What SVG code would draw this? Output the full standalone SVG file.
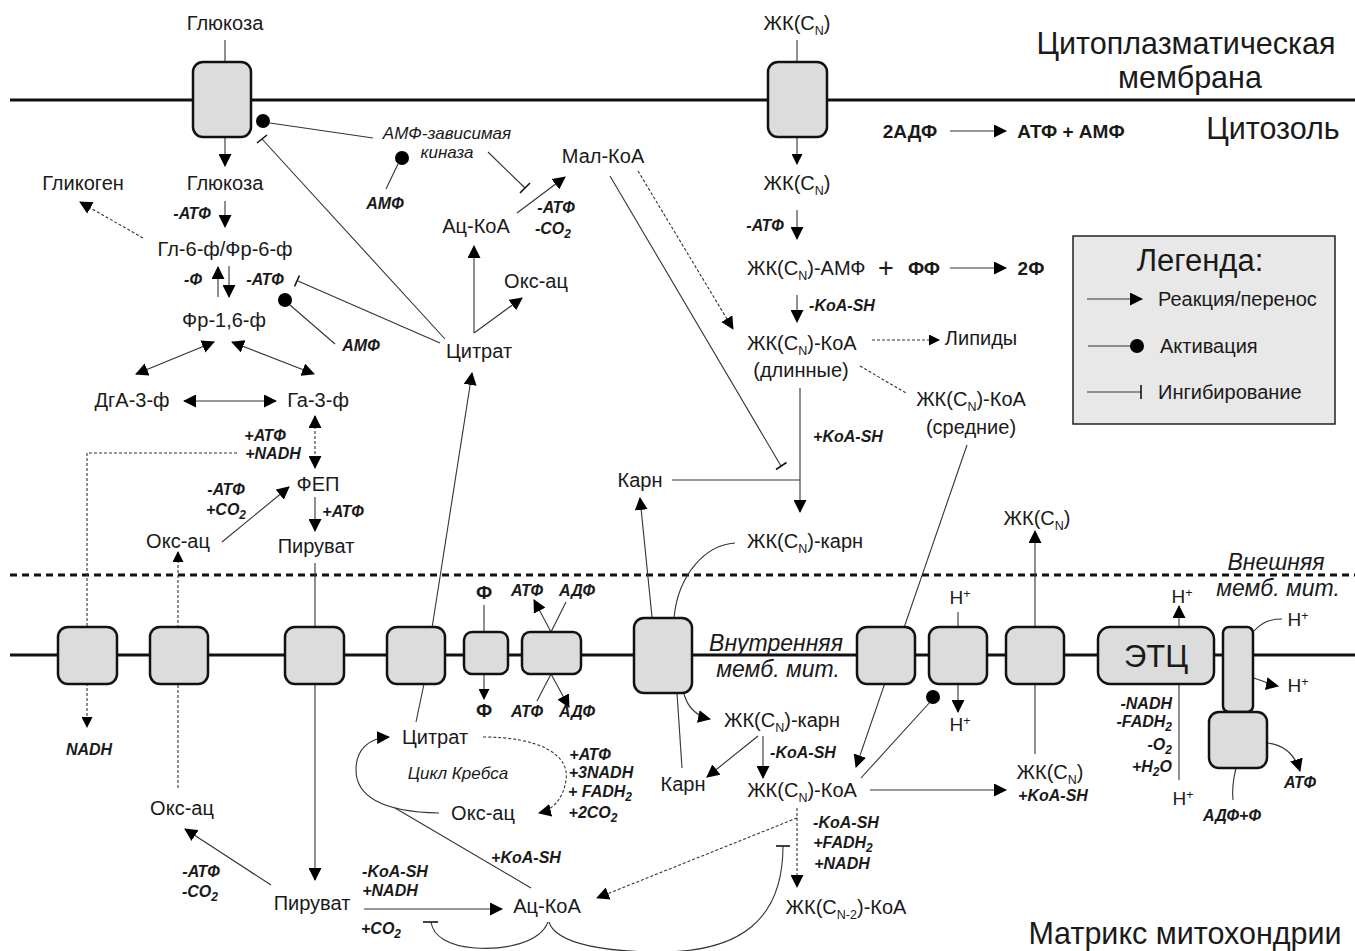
<svg xmlns="http://www.w3.org/2000/svg" width="1355" height="951" viewBox="0 0 1355 951">
<defs>
<marker id="a" viewBox="0 0 13 13" refX="12" refY="6.5" markerWidth="13" markerHeight="13" markerUnits="userSpaceOnUse" orient="auto-start-reverse"><path d="M0,0 L13,6.5 L0,13z" fill="#000"/></marker>
<marker id="s" viewBox="0 0 11 11" refX="10" refY="5.5" markerWidth="11" markerHeight="11" markerUnits="userSpaceOnUse" orient="auto-start-reverse"><path d="M0,0 L11,5.5 L0,11z" fill="#000"/></marker>
<style>
text{font-family:"Liberation Sans",Arial,sans-serif;fill:#1a1a1a}
.n{font-size:20px;text-anchor:middle}
.ns{font-size:20px}
.sub{font-size:12.5px}
.b{font-size:16px;font-weight:bold;font-style:italic;text-anchor:middle}
.bn{font-size:19px;font-weight:bold;text-anchor:middle}
.i{font-size:17px;font-style:italic;text-anchor:middle}
.ii{font-size:23px;font-style:italic;text-anchor:middle}
.t{font-size:30.5px;text-anchor:middle}
.h{font-size:19px;text-anchor:middle}
.lg{font-size:20px}
.c{stroke:#333;stroke-width:1.1;fill:none}
.k{stroke:#111;stroke-width:1.6;fill:none}
.d{stroke:#333;stroke-width:1.1;fill:none;stroke-dasharray:3,2}
.m{stroke:#111;stroke-width:3;fill:none}
.box{fill:#dcdcdc;stroke:#111;stroke-width:2.5}
.dot{fill:#000}
.e{font-size:12px;font-weight:bold;font-style:italic}
</style>
</defs>

<g id="membranes">
<line class="m" x1="10" y1="100" x2="1355" y2="100"/>
<line class="m" x1="10" y1="575" x2="1355" y2="575" stroke-dasharray="7,5"/>
<line class="m" x1="10" y1="655" x2="1355" y2="655"/>
</g>

<g id="connectors">
<line class="c" x1="225" y1="40" x2="225" y2="62"/>
<line class="c" x1="225" y1="137" x2="225" y2="166" marker-end="url(#a)"/>
<line class="d" x1="143" y1="238" x2="80" y2="202" marker-end="url(#a)"/>
<line class="c" x1="225" y1="201" x2="225" y2="227" marker-end="url(#a)"/>
<line class="c" x1="218" y1="297" x2="218" y2="267" marker-end="url(#a)"/>
<line class="c" x1="229" y1="266" x2="229" y2="297" marker-end="url(#a)"/>
<line class="c" x1="440" y1="343" x2="298" y2="281"/>
<line class="k" x1="294.6" y1="286.5" x2="299.4" y2="275.5"/>
<line class="c" x1="290" y1="305" x2="335" y2="344"/>
<line class="c" x1="214" y1="342" x2="136" y2="374" marker-start="url(#a)" marker-end="url(#a)"/>
<line class="c" x1="232" y1="342" x2="314" y2="374" marker-start="url(#a)" marker-end="url(#a)"/>
<line class="c" x1="184" y1="401" x2="276" y2="401" marker-start="url(#a)" marker-end="url(#a)"/>
<line class="d" x1="315" y1="416" x2="315" y2="468" marker-start="url(#a)" marker-end="url(#a)"/>
<polyline class="d" points="237,453 87,453 87,727" marker-end="url(#s)"/>
<line class="c" x1="222" y1="542" x2="289" y2="487" marker-end="url(#a)"/>
<line class="c" x1="315" y1="497" x2="315" y2="531" marker-end="url(#a)"/>
<line class="d" x1="178" y1="788" x2="178" y2="552" marker-end="url(#s)"/>
<line class="c" x1="315" y1="563" x2="315" y2="880" marker-end="url(#a)"/>
<line class="c" x1="270" y1="123" x2="373" y2="138"/>
<line class="c" x1="398" y1="164" x2="386" y2="189"/>
<line class="c" x1="488" y1="152" x2="525" y2="188"/>
<line class="k" x1="520" y1="193" x2="530" y2="183"/>
<line class="c" x1="445" y1="339" x2="262" y2="139"/>
<line class="k" x1="257" y1="143" x2="267" y2="135"/>
<line class="c" x1="474" y1="333" x2="474" y2="246" marker-end="url(#a)"/>
<line class="c" x1="474" y1="333" x2="522" y2="298" marker-end="url(#a)"/>
<line class="c" x1="517" y1="213" x2="565" y2="177" marker-end="url(#a)"/>
<line class="c" x1="610" y1="176" x2="781" y2="466"/>
<line class="k" x1="776" y1="469.5" x2="786.5" y2="462.5"/>
<line class="d" x1="638" y1="171" x2="733" y2="329" marker-end="url(#a)"/>
<line class="c" x1="432" y1="628" x2="472" y2="373" marker-end="url(#a)"/>
<line class="c" x1="424" y1="684" x2="416" y2="722"/>
<line class="c" x1="797" y1="40" x2="797" y2="62"/>
<line class="c" x1="797" y1="137" x2="797" y2="164" marker-end="url(#s)"/>
<line class="c" x1="797" y1="210" x2="797" y2="239" marker-end="url(#a)"/>
<line class="c" x1="950" y1="131" x2="1006" y2="131" marker-end="url(#a)"/>
<line class="c" x1="950" y1="268" x2="1006" y2="268" marker-end="url(#a)"/>
<line class="c" x1="797" y1="295" x2="797" y2="322" marker-end="url(#a)"/>
<line class="d" x1="872" y1="340" x2="939" y2="340" marker-end="url(#s)"/>
<line class="d" x1="860" y1="366" x2="906" y2="393"/>
<line class="c" x1="967" y1="445" x2="856" y2="767" marker-end="url(#a)"/>
<line class="c" x1="800" y1="388" x2="800" y2="512" marker-end="url(#a)"/>
<line class="c" x1="672" y1="480" x2="800" y2="480"/>
<line class="c" x1="652" y1="617" x2="640" y2="498" marker-end="url(#a)"/>
<path class="c" d="M735,543 C705,545 678,575 674,618"/>
<path class="c" d="M684,694 C688,708 696,716 710,719" marker-end="url(#a)"/>
<line class="c" x1="677" y1="693" x2="682" y2="768"/>
<line class="c" x1="758" y1="736" x2="707" y2="777" marker-end="url(#a)"/>
<line class="c" x1="763" y1="736" x2="763" y2="778" marker-end="url(#a)"/>
<line class="c" x1="870" y1="790" x2="1006" y2="790" marker-end="url(#a)"/>
<line class="c" x1="861" y1="778" x2="931" y2="701"/>
<line class="d" x1="797" y1="808" x2="797" y2="887" marker-end="url(#a)"/>
<line class="d" x1="797" y1="818" x2="597" y2="898" marker-end="url(#a)"/>
<path class="c" d="M549,922 C556,945 610,952 660,952 C740,952 783,920 783,846"/>
<line class="k" x1="776" y1="846" x2="790" y2="846"/>
<path class="c" d="M548,922 C540,943 505,950 475,948 C448,946 433,936 431,922"/>
<line class="k" x1="423" y1="922" x2="438" y2="922"/>
<path class="c" d="M439,813 C380,812 356,795 356,770 C356,750 368,738 389,737" marker-end="url(#a)"/>
<path class="d" d="M483,737 C540,737 570,755 566,780 C563,800 552,810 539,813" marker-end="url(#a)"/>
<line class="c" x1="531" y1="888" x2="395" y2="808"/>
<line class="c" x1="271" y1="885" x2="185" y2="829" marker-end="url(#a)"/>
<line class="c" x1="364" y1="909" x2="502" y2="909" marker-end="url(#a)"/>
<line class="c" x1="484" y1="605" x2="484" y2="632"/>
<line class="c" x1="484" y1="674" x2="484" y2="699" marker-end="url(#s)"/>
<line class="c" x1="551" y1="632" x2="534" y2="600" marker-end="url(#a)"/>
<line class="c" x1="551" y1="632" x2="566" y2="602"/>
<line class="c" x1="551" y1="674" x2="537" y2="701"/>
<line class="c" x1="551" y1="674" x2="569" y2="707" marker-end="url(#a)"/>
<line class="c" x1="958" y1="612" x2="958" y2="627"/>
<line class="c" x1="958" y1="684" x2="958" y2="712" marker-end="url(#a)"/>
<line class="c" x1="1035" y1="754" x2="1035" y2="531" marker-end="url(#a)"/>
<line class="c" x1="1179" y1="780" x2="1179" y2="606" marker-end="url(#a)"/>
<path class="c" d="M1253,632 C1262,622 1270,619 1282,619"/>
<path class="c" d="M1253,678 C1262,680 1268,684 1278,686" marker-end="url(#a)"/>
<path class="c" d="M1267,743 C1285,745 1295,755 1300,771" marker-end="url(#a)"/>
<path class="c" d="M1236,768 C1233,780 1232,790 1233,800"/>
</g>

<g id="dots">
<circle class="dot" cx="263" cy="121" r="7"/>
<circle class="dot" cx="402" cy="158" r="7"/>
<circle class="dot" cx="285" cy="300" r="7"/>
<circle class="dot" cx="933" cy="697" r="7"/>
</g>

<g id="transporters">
<rect id="t-glc" class="box" x="193" y="62" width="58" height="75" rx="10"/>
<rect id="t-fa" class="box" x="768" y="62" width="59" height="75" rx="10"/>
<rect id="m1" class="box" x="58" y="627" width="59" height="57" rx="10"/>
<rect id="m2" class="box" x="150" y="627" width="58" height="57" rx="10"/>
<rect id="m3" class="box" x="285" y="627" width="59" height="57" rx="10"/>
<rect id="m4" class="box" x="387" y="627" width="58" height="57" rx="10"/>
<rect id="m5" class="box" x="464" y="632" width="44" height="42" rx="8"/>
<rect id="m6" class="box" x="522" y="632" width="59" height="42" rx="8"/>
<rect id="m7" class="box" x="634" y="618" width="58" height="75" rx="10"/>
<rect id="m8" class="box" x="857" y="627" width="58" height="57" rx="10"/>
<rect id="m9" class="box" x="929" y="627" width="58" height="57" rx="10"/>
<rect id="m10" class="box" x="1006" y="627" width="58" height="57" rx="10"/>
<rect id="etc" class="box" x="1098" y="627" width="116" height="57" rx="12"/>
<rect id="atp-stalk" class="box" x="1223" y="627" width="30" height="85" rx="6"/>
<rect id="atp-head" class="box" x="1209" y="712" width="58" height="56" rx="10"/>
</g>

<g id="legend">
<rect x="1073" y="236" width="262" height="188" fill="#e8e8e8" stroke="#222" stroke-width="1.5"/>
<text x="1200" y="271" style="font-size:31px;text-anchor:middle">Легенда:</text>
<line class="c" x1="1087" y1="299" x2="1142" y2="299" marker-end="url(#a)"/>
<text class="lg" x="1158" y="306">Реакция/перенос</text>
<line class="c" x1="1088" y1="346" x2="1135" y2="346"/>
<circle class="dot" cx="1137" cy="346" r="7"/>
<text class="lg" x="1160" y="353">Активация</text>
<line class="c" x1="1087" y1="392" x2="1141" y2="392"/>
<line class="k" x1="1141" y1="385" x2="1141" y2="399"/>
<text class="lg" x="1158" y="399">Ингибирование</text>
</g>

<g id="regions">
<text class="t" x="1186" y="54">Цитоплазматическая</text>
<text class="t" x="1190" y="88">мембрана</text>
<text class="t" x="1273" y="139">Цитозоль</text>
<text class="t" x="1185" y="944">Матрикс митохондрии</text>
<text class="ii" x="1276" y="570">Внешняя</text>
<text class="ii" x="1278" y="596">мемб. мит.</text>
<text class="ii" x="776" y="651">Внутренняя</text>
<text class="ii" x="778" y="677">мемб. мит.</text>
</g>

<g id="glycolysis">
<text class="n" x="225" y="30">Глюкоза</text>
<text class="n" x="225" y="190">Глюкоза</text>
<text class="n" x="83" y="190">Гликоген</text>
<text class="b" x="192" y="219">-АТФ</text>
<text class="n" x="225" y="256">Гл-6-ф/Фр-6-ф</text>
<text class="b" x="193" y="285">-Ф</text>
<text class="b" x="265" y="285">-АТФ</text>
<text class="n" x="224" y="327">Фр-1,6-ф</text>
<text class="b" x="361" y="351">АМФ</text>
<text class="n" x="132" y="407">ДгА-3-ф</text>
<text class="n" x="318" y="407">Га-3-ф</text>
<text class="b" x="265" y="441">+АТФ</text>
<text class="b" x="273" y="459">+NADH</text>
<text class="n" x="318" y="491">ФЕП</text>
<text class="b" x="226" y="495">-АТФ</text>
<text class="b" x="226" y="515">+CO<tspan class="e" dy="4">2</tspan></text>
<text class="b" x="343" y="517">+АТФ</text>
<text class="n" x="178" y="548">Окс-ац</text>
<text class="n" x="316" y="553">Пируват</text>
</g>

<g id="kinase">
<text class="i" x="447" y="139">АМФ-зависимая</text>
<text class="i" x="447" y="158">киназа</text>
<text class="b" x="385" y="209">АМФ</text>
</g>

<g id="citrate-cytosol">
<text class="n" x="603" y="163">Мал-КоА</text>
<text class="n" x="476" y="233">Ац-КоА</text>
<text class="b" x="556" y="213">-АТФ</text>
<text class="b" x="553" y="234">-CO<tspan class="e" dy="4">2</tspan></text>
<text class="n" x="536" y="288">Окс-ац</text>
<text class="n" x="479" y="358">Цитрат</text>
</g>

<g id="fa-cytosol">
<text class="n" x="797" y="30">ЖК(С<tspan class="sub" dy="5">N</tspan><tspan dy="-5">)</tspan></text>
<text class="bn" x="910" y="138">2АДФ</text>
<text class="bn" x="1071" y="138">АТФ + АМФ</text>
<text class="n" x="797" y="190">ЖК(С<tspan class="sub" dy="5">N</tspan><tspan dy="-5">)</tspan></text>
<text class="b" x="765" y="231">-АТФ</text>
<text class="ns" x="747" y="275">ЖК(С<tspan class="sub" dy="5">N</tspan><tspan dy="-5">)-АМФ</tspan></text>
<text x="886" y="277" style="font-size:27px;text-anchor:middle">+</text>
<text class="bn" x="924" y="275">ФФ</text>
<text class="bn" x="1031" y="275">2Ф</text>
<text class="b" x="842" y="311">-KoA-SH</text>
<text class="ns" x="747" y="350">ЖК(С<tspan class="sub" dy="5">N</tspan><tspan dy="-5">)-КоА</tspan></text>
<text class="n" x="801" y="377">(длинные)</text>
<text class="n" x="981" y="345">Липиды</text>
<text class="n" x="971" y="406">ЖК(С<tspan class="sub" dy="5">N</tspan><tspan dy="-5">)-КоА</tspan></text>
<text class="n" x="971" y="434">(средние)</text>
<text class="b" x="848" y="442">+KoA-SH</text>
<text class="n" x="640" y="487">Карн</text>
<text class="ns" x="747" y="548">ЖК(С<tspan class="sub" dy="5">N</tspan><tspan dy="-5">)-карн</tspan></text>
<text class="n" x="1037" y="525">ЖК(С<tspan class="sub" dy="5">N</tspan><tspan dy="-5">)</tspan></text>
</g>

<g id="membrane-labels">
<text class="bn" x="484" y="599">Ф</text>
<text class="bn" x="484" y="717">Ф</text>
<text class="b" x="527" y="596">АТФ</text>
<text class="b" x="577" y="596">АДФ</text>
<text class="b" x="527" y="717">АТФ</text>
<text class="b" x="577" y="717">АДФ</text>
<text class="h" x="960" y="604">H<tspan class="sub" dy="-6">+</tspan></text>
<text class="h" x="960" y="731">H<tspan class="sub" dy="-6">+</tspan></text>
<text class="h" x="1182" y="603">H<tspan class="sub" dy="-6">+</tspan></text>
<text class="h" x="1183" y="805">H<tspan class="sub" dy="-6">+</tspan></text>
<text class="h" x="1298" y="626">H<tspan class="sub" dy="-6">+</tspan></text>
<text class="h" x="1298" y="692">H<tspan class="sub" dy="-6">+</tspan></text>
<text x="1156" y="667" style="font-size:31px;text-anchor:middle">ЭТЦ</text>
<text class="b" x="1172" y="709" style="text-anchor:end">-NADH</text>
<text class="b" x="1172" y="727" style="text-anchor:end">-FADH<tspan class="e" dy="4">2</tspan></text>
<text class="b" x="1172" y="750" style="text-anchor:end">-O<tspan class="e" dy="4">2</tspan></text>
<text class="b" x="1172" y="772" style="text-anchor:end">+H<tspan class="e" dy="4">2</tspan><tspan dy="-4">O</tspan></text>
<text class="b" x="1300" y="788">АТФ</text>
<text class="b" x="1232" y="821">АДФ+Ф</text>
</g>

<g id="matrix">
<text class="n" x="782" y="727">ЖК(С<tspan class="sub" dy="5">N</tspan><tspan dy="-5">)-карн</tspan></text>
<text class="b" x="803" y="758">-KoA-SH</text>
<text class="n" x="683" y="791">Карн</text>
<text class="n" x="802" y="797">ЖК(С<tspan class="sub" dy="5">N</tspan><tspan dy="-5">)-КоА</tspan></text>
<text class="n" x="1050" y="779">ЖК(С<tspan class="sub" dy="5">N</tspan><tspan dy="-5">)</tspan></text>
<text class="b" x="1053" y="801">+KoA-SH</text>
<text class="b" x="846" y="828">-KoA-SH</text>
<text class="b" x="843" y="848">+FADH<tspan class="e" dy="4">2</tspan></text>
<text class="b" x="842" y="869">+NADH</text>
<text class="n" x="846" y="914">ЖК(С<tspan class="sub" dy="5">N-2</tspan><tspan dy="-5">)-КоА</tspan></text>
<text class="n" x="435" y="744">Цитрат</text>
<text class="i" x="458" y="779">Цикл Кребса</text>
<text class="n" x="483" y="820">Окс-ац</text>
<text class="b" x="590" y="760">+АТФ</text>
<text class="b" x="601" y="778">+3NADH</text>
<text class="b" x="600" y="797">+ FADH<tspan class="e" dy="4">2</tspan></text>
<text class="b" x="593" y="818">+2CO<tspan class="e" dy="4">2</tspan></text>
<text class="b" x="526" y="863">+KoA-SH</text>
<text class="b" x="89" y="755">NADH</text>
<text class="n" x="182" y="815">Окс-ац</text>
<text class="b" x="201" y="877">-АТФ</text>
<text class="b" x="200" y="897">-CO<tspan class="e" dy="4">2</tspan></text>
<text class="n" x="312" y="910">Пируват</text>
<text class="b" x="395" y="877">-KoA-SH</text>
<text class="b" x="390" y="896">+NADH</text>
<text class="b" x="381" y="934">+CO<tspan class="e" dy="4">2</tspan></text>
<text class="n" x="547" y="913">Ац-КоА</text>
</g>
</svg>
